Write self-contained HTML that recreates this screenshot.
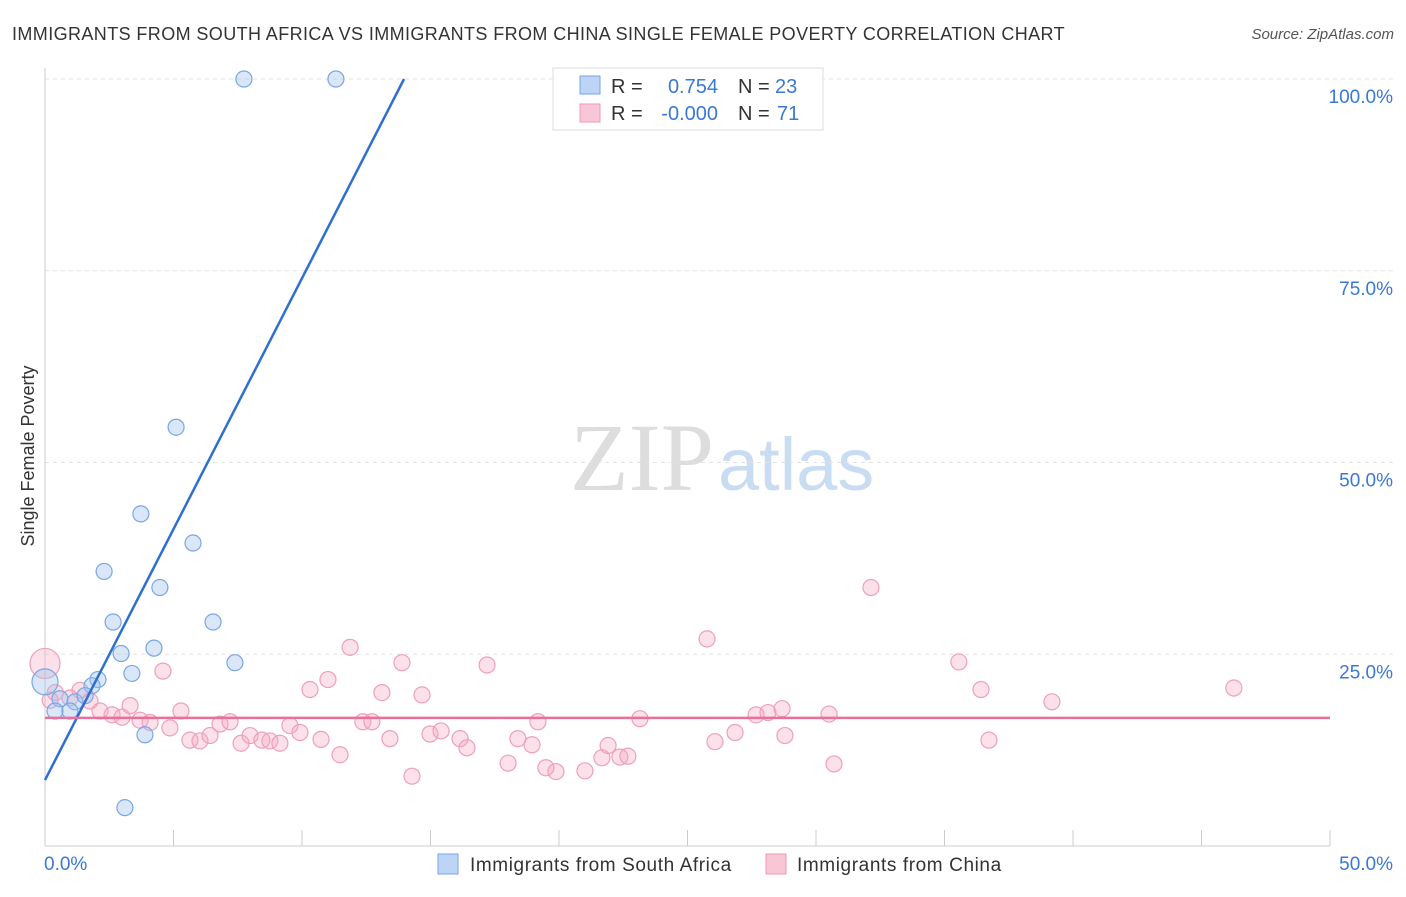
<!DOCTYPE html>
<html><head><meta charset="utf-8"><style>
body{margin:0;background:#fff;font-family:"Liberation Sans",sans-serif;}
</style></head><body>
<svg id="c" width="1406" height="892" xmlns="http://www.w3.org/2000/svg">
<text x="12" y="40" font-size="18" fill="#333" letter-spacing="0.4">IMMIGRANTS FROM SOUTH AFRICA VS IMMIGRANTS FROM CHINA SINGLE FEMALE POVERTY CORRELATION CHART</text>
<text x="1394" y="39" font-size="15" fill="#555" font-style="italic" text-anchor="end">Source: ZipAtlas.com</text>
<text x="34" y="456" font-size="18" fill="#333" transform="rotate(-90 34 456)" text-anchor="middle">Single Female Poverty</text>
<text x="714" y="490" font-size="96" fill="#ddd" font-family="Liberation Serif,serif" text-anchor="end">ZIP</text>
<text x="718" y="490" font-size="74" fill="#c8dcf2">atlas</text>
<g id="grid"></g><g id="pts"></g><g id="lines"></g>
<g>
<rect x="553" y="68" width="270" height="62" fill="#fff" stroke="#ddd"/>
<rect x="580" y="76" width="20" height="18" fill="#bcd4f5" stroke="#7aa6e6"/>
<rect x="580" y="104" width="20" height="18" fill="#f9c6d6" stroke="#ee9ab5"/>
<text x="611" y="93" font-size="20" fill="#333">R =</text>
<text x="718" y="93" font-size="20" fill="#3a78d4" text-anchor="end">0.754</text>
<text x="738" y="93" font-size="20" fill="#333">N =</text>
<text x="775" y="93" font-size="20" fill="#3a78d4">23</text>
<text x="611" y="120" font-size="20" fill="#333">R =</text>
<text x="718" y="120" font-size="20" fill="#3a78d4" text-anchor="end">-0.000</text>
<text x="738" y="120" font-size="20" fill="#333">N =</text>
<text x="777" y="120" font-size="20" fill="#3a78d4">71</text>
</g>
<g>
<rect x="438" y="854" width="20" height="20" fill="#bcd4f5" stroke="#7aa6e6"/>
<text x="470" y="871" font-size="19" fill="#333" letter-spacing="0.6">Immigrants from South Africa</text>
<rect x="766" y="854" width="20" height="20" fill="#f9c6d6" stroke="#ee9ab5"/>
<text x="797" y="871" font-size="19" fill="#333" letter-spacing="0.6">Immigrants from China</text>
</g>
</svg>
<script>
const yTicks=[100,75,50,25];
const yTickLabels=["100.0%","75.0%","50.0%","25.0%"];
const xTickLabels=["0.0%","50.0%"];
const blueX=[7.74,11.32,5.10,3.73,5.76,2.30,4.47,2.65,6.54,4.24,2.96,7.39,3.38,2.06,1.83,0,0.58,1.17,1.56,0.39,0.97,3.89,3.11];
const blueY=[100,100,54.6,43.3,39.5,35.8,33.7,29.2,29.2,25.8,25.1,23.9,22.5,21.7,20.9,21.4,19.2,18.8,19.6,17.6,17.6,14.5,5.0];
const pinkX=[0,1.36,0.97,1.75,2.14,2.61,3.00,3.31,3.70,4.09,4.59,4.86,5.29,5.64,6.03,6.42,6.81,7.20,7.63,7.98,8.44,8.75,9.14,9.53,9.92,10.31,10.74,11.01,11.48,11.87,12.37,12.72,13.11,13.42,13.89,14.28,14.67,14.98,15.41,16.15,16.42,17.20,18.02,18.40,18.95,19.18,19.49,19.88,21.01,21.67,21.91,22.37,22.68,23.15,25.76,26.07,26.85,27.67,28.13,28.68,28.79,30.51,30.70,32.14,35.56,36.42,36.73,39.18,46.26,0.4,0.2];
const pinkY=[23.8,20.3,19.3,18.9,17.6,17.1,16.8,18.3,16.4,16.1,22.8,15.4,17.6,13.8,13.7,14.4,15.9,16.2,13.4,14.4,13.8,13.7,13.4,15.7,14.8,20.4,13.9,21.7,11.9,25.9,16.2,16.2,20.0,14.0,23.9,9.1,19.7,14.6,15.0,14.0,12.8,23.6,10.8,14.0,13.2,16.2,10.2,9.7,9.8,11.5,13.1,11.6,11.7,16.6,27.0,13.6,14.8,17.1,17.4,17.9,14.4,17.2,10.7,33.7,24.0,20.4,13.8,18.8,20.6,20.0,19.0];
const blueFit=[8.6,100];const blueFitX=[0,13.97];const pinkFit=16.7;
const X0=45,X1=1330,Y0=846,Y100=79;
const sx=v=>X0+(v/50)*(X1-X0), sy=v=>Y0-(v/100)*(Y0-Y100);
const NS="http://www.w3.org/2000/svg";
function mk(p,t,a){const e=document.createElementNS(NS,t);for(const k in a)e.setAttribute(k,a[k]);p.appendChild(e);return e;}
const g=document.getElementById('grid');
yTicks.forEach((t,i)=>{
 const l=mk(g,'line',{x1:X0,x2:1394,y1:sy(t),y2:sy(t),stroke:'#e2e2e2','stroke-dasharray':'4,4'});
 
 
 const tx=mk(g,'text',{x:1393,y:sy(t)+24,'font-size':19,fill:'#3a78d4','text-anchor':'end'});tx.textContent=yTickLabels[i];
 
 
});
mk(g,'line',{x1:X0,x2:X0,y1:68,y2:Y0,stroke:'#ccc'});
mk(g,'line',{x1:X0,x2:X1,y1:Y0,y2:Y0,stroke:'#ccc'});
for(let i=0;i<=10;i++){const x=sx(i*5);const t=mk(g,'line',{x1:x,x2:x,y1:830,y2:Y0,stroke:'#ccc'});
 
 }
[[0,'start',44],[50,'end',1393]].forEach((d,i)=>{const t=mk(g,'text',{x:d[2],y:870,'font-size':19,fill:'#3a78d4','text-anchor':d[1]});t.textContent=xTickLabels[i];
 
 });
const p=document.getElementById('pts');
pinkX.forEach((x,i)=>{const c=mk(p,'circle',{cx:sx(x),cy:sy(pinkY[i]),r:i==0?15:8,fill:'rgba(246,170,195,0.35)',stroke:'#eea0b8','stroke-width':1.2});
 
 });
blueX.forEach((x,i)=>{const c=mk(p,'circle',{cx:sx(x),cy:sy(blueY[i]),r:i==15?13:8,fill:'rgba(160,195,240,0.4)',stroke:'#7aa6e6','stroke-width':1.2});
 
 });
const L=document.getElementById('lines');
const bl=mk(L,'line',{x1:sx(blueFitX[0]),y1:sy(blueFit[0]),x2:sx(blueFitX[1]),y2:sy(blueFit[1]),stroke:'#2f6fd0','stroke-width':2.5});


const pl=mk(L,'line',{x1:X0,y1:sy(pinkFit),x2:X1,y2:sy(pinkFit),stroke:'#e8709a','stroke-width':2.5});


</script>
</body></html>
